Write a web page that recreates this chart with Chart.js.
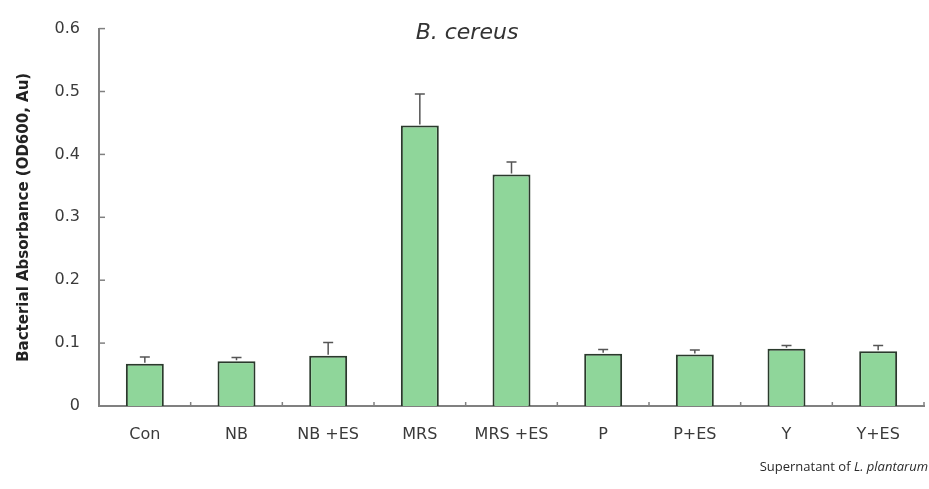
<!DOCTYPE html>
<html><head><meta charset="utf-8">
<script src="https://cdn.jsdelivr.net/npm/chart.js@4"></script>
<style>html,body{margin:0;padding:0;background:#fff;}#wrap{width:929px;height:489px;}</style>
</head><body><div id="wrap"><canvas id="c" width="929" height="489"></canvas></div>
<script>
const categories = ['Con', 'NB', 'NB +ES', 'MRS', 'MRS +ES', 'P', 'P+ES', 'Y', 'Y+ES'];
const absorbance = [0.067, 0.071, 0.080, 0.446, 0.368, 0.083, 0.082, 0.091, 0.087];
const errors = [0.011, 0.006, 0.021, 0.050, 0.020, 0.007, 0.007, 0.005, 0.009];
const yTicks = [0, 0.1, 0.2, 0.3, 0.4, 0.5, 0.6];
const chartTitle = 'B. cereus';
const yTitle = 'Bacterial Absorbance (OD600, Au)';
const xTitlePlain = 'Supernatant of ';
const xTitleItalic = 'L. plantarum';

const FONT = "'DejaVu Sans', sans-serif";
const FONT2 = "'Open Sans', 'Noto Sans', sans-serif";
const AXIS = '#808080';

const extras = {
  id: 'extras',
  afterDatasetsDraw(chart) {
    const ctx = chart.ctx, x = chart.scales.x, y = chart.scales.y;
    const meta = chart.getDatasetMeta(0);
    ctx.save();
    // error bars
    ctx.strokeStyle = '#555'; ctx.lineWidth = 1.5;
    meta.data.forEach((bar, i) => {
      const yb = y.getPixelForValue(absorbance[i]);
      const yt = y.getPixelForValue(absorbance[i] + errors[i]);
      ctx.beginPath();
      ctx.moveTo(bar.x, yb - 1); ctx.lineTo(bar.x, yt);
      ctx.moveTo(bar.x - 5, yt); ctx.lineTo(bar.x + 5, yt);
      ctx.stroke();
    });
    // inward tick marks
    ctx.strokeStyle = AXIS; ctx.lineWidth = 1.5;
    yTicks.forEach(v => {
      if (v === 0) return;
      const py = y.getPixelForValue(v);
      ctx.beginPath(); ctx.moveTo(x.left, py); ctx.lineTo(x.left + 6, py); ctx.stroke();
    });
    for (let i = 1; i <= categories.length; i++) {
      const px = x.getPixelForValue(i - 0.5);
      ctx.beginPath(); ctx.moveTo(px, y.bottom); ctx.lineTo(px, y.bottom - 4); ctx.stroke();
    }
    // chart title
    ctx.fillStyle = '#333';
    ctx.font = 'italic 22px ' + FONT;
    ctx.textAlign = 'center'; ctx.textBaseline = 'middle';
    ctx.fillText(chartTitle, 467, 33);
    // x axis title
    ctx.fillStyle = '#2a2a2a';
    ctx.font = '13px ' + FONT2;
    const w1 = ctx.measureText(xTitlePlain).width;
    ctx.font = 'italic 13px ' + FONT2;
    const w2 = ctx.measureText(xTitleItalic).width;
    const startX = 928 - w1 - w2;
    ctx.textAlign = 'left';
    ctx.font = '13px ' + FONT2;
    ctx.fillText(xTitlePlain, startX, 467);
    ctx.font = 'italic 13px ' + FONT2;
    ctx.fillText(xTitleItalic, startX + w1, 467);
    ctx.restore();
  }
};

new Chart(document.getElementById('c'), {
  type: 'bar',
  data: {
    labels: categories,
    datasets: [{
      data: absorbance,
      backgroundColor: '#8fd69a',
      borderColor: '#2a3a2c',
      borderWidth: 2,
      borderSkipped: 'bottom',
      barPercentage: 0.414,
      categoryPercentage: 1.0
    }]
  },
  options: {
    responsive: false,
    animation: false,
    layout: { padding: { left: 0, right: 5, top: 13, bottom: 0 } },
    plugins: { legend: { display: false }, tooltip: { enabled: false } },
    scales: {
      x: {
        grid: { display: false, drawTicks: false },
        border: { display: true, color: AXIS, width: 2 },
        ticks: { color: '#3a3a3a', font: { family: FONT, size: 16 }, padding: 19, maxRotation: 0 },
        afterFit(s) { s.height = 83; }
      },
      y: {
        min: 0, max: 0.6,
        afterBuildTicks(s) { s.ticks = yTicks.map(v => ({ value: v })); },
        grid: { display: false, drawTicks: false },
        border: { display: true, color: AXIS, width: 2 },
        ticks: { color: '#3a3a3a', font: { family: FONT, size: 16 }, padding: 19,
          callback: v => String(Math.round(v * 10) / 10) },
        title: { display: true, text: yTitle, color: '#222',
          font: { family: FONT, size: 15, weight: 'bold' }, padding: { top: 15, bottom: 0 } },
        afterFit(s) { s.width = 99; }
      }
    }
  },
  plugins: [extras]
});
</script></body></html>
